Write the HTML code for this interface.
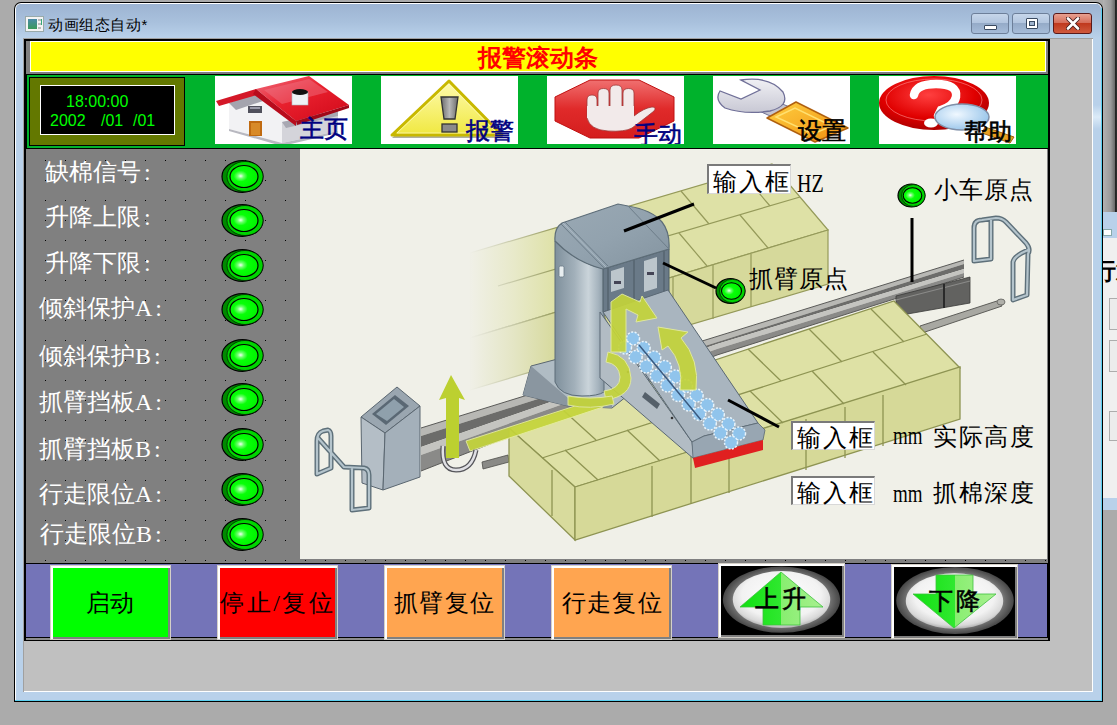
<!DOCTYPE html>
<html><head><meta charset="utf-8">
<style>
*{margin:0;padding:0;box-sizing:border-box}
html,body{width:1117px;height:725px;overflow:hidden;background:#ababab;font-family:"Liberation Sans",sans-serif}
.a{position:absolute}
.cn{font-family:"Liberation Serif",serif;white-space:nowrap;line-height:1}
</style></head><body>
<!-- other window strip at right -->
<div class="a" style="left:1103px;top:0;width:14px;height:212px;background:linear-gradient(90deg,#b2b2b2,#9a9a9a 55%,#6a6a6a 85%,#1a1a1a 90%,#202020 96%,#8a8a8a)"></div>
<div class="a" style="left:1103px;top:212px;width:14px;height:26px;background:#b9d1ea"></div>
<div class="a" style="left:1103px;top:229px;width:9px;height:7px;background:#fff;border:1px solid #8aa"></div>
<div class="a" style="left:1103px;top:238px;width:14px;height:260px;background:#f0f0f0"></div>
<div class="a cn" style="left:1092px;top:259px;font-size:24px;color:#000;font-weight:bold">行筹</div>
<div class="a" style="left:1109px;top:298px;width:10px;height:32px;border:1px solid #adadad;border-right:none;background:#ececec"></div>
<div class="a" style="left:1109px;top:340px;width:10px;height:32px;border:1px solid #adadad;border-right:none;background:#ececec"></div>
<div class="a" style="left:1109px;top:411px;width:10px;height:30px;border:1px solid #adadad;border-right:none;background:#ececec"></div>
<div class="a" style="left:1103px;top:498px;width:14px;height:12px;background:#b9d1ea"></div>

<!-- main window -->
<div class="a" style="left:14px;top:2px;width:1089px;height:700px;background:#000;border-radius:7px 7px 0 0"></div>
<div class="a" style="left:15px;top:3px;width:1087px;height:698px;background:#fff;border-radius:6px 6px 0 0"></div>
<div class="a" style="left:16px;top:4px;width:1085px;height:696px;background:#b9d1ea;border-radius:5px 5px 0 0"></div>
<div class="a" style="left:16px;top:4px;width:1085px;height:34px;background:linear-gradient(180deg,#9db4d2 0%,#a9c1dd 55%,#b9d1ea 100%);border-radius:5px 5px 0 0"></div>
<div class="a" style="left:1101px;top:8px;width:1px;height:693px;background:#5ad0f0"></div>
<div class="a" style="left:1093px;top:105px;width:8px;height:24px;background:linear-gradient(180deg,#b9d1ea,#dcebf8 50%,#b9d1ea)"></div>
<div class="a" style="left:15px;top:700px;width:1087px;height:1px;background:#5ad0f0"></div>
<!-- title -->
<div class="a" style="left:25px;top:16px;width:19px;height:16px;background:#f4f4f4;border:1px solid #9aa">
  <div class="a" style="left:2px;top:2px;width:9px;height:10px;background:linear-gradient(180deg,#4a8aa8,#3a9a5a)"></div>
  <div class="a" style="left:12px;top:2px;width:3px;height:2px;background:#bbb"></div>
  <div class="a" style="left:12px;top:6px;width:3px;height:2px;background:#bbb"></div>
  <div class="a" style="left:12px;top:10px;width:3px;height:2px;background:#bbb"></div>
  <div class="a" style="left:15px;top:2px;width:1px;height:6px;background:#3a7"></div>
</div>
<div class="a" style="left:48px;top:16px;font-size:15px;line-height:17px;color:#000;white-space:nowrap;letter-spacing:0.6px">动画组态自动*</div>
<!-- window buttons -->
<div class="a" style="left:971px;top:13px;width:38px;height:21px;border:1px solid #6d7f99;border-radius:3px;background:linear-gradient(180deg,#c6d6ea 0%,#b3c6df 45%,#95abc8 50%,#a6bcd8 100%)">
  <div class="a" style="left:12px;top:11px;width:13px;height:5px;background:#fff;border:1px solid #3a4a60;border-radius:1px"></div>
</div>
<div class="a" style="left:1012px;top:13px;width:38px;height:21px;border:1px solid #6d7f99;border-radius:3px;background:linear-gradient(180deg,#c6d6ea 0%,#b3c6df 45%,#95abc8 50%,#a6bcd8 100%)">
  <div class="a" style="left:13px;top:4px;width:12px;height:11px;background:#fff;border:1px solid #3a4a60;border-radius:1px"><div class="a" style="left:2px;top:2px;width:6px;height:5px;border:1px solid #3a4a60;background:#9fb3cc"></div></div>
</div>
<div class="a" style="left:1053px;top:13px;width:39px;height:21px;border:1px solid #5a1a1a;border-radius:3px;background:linear-gradient(180deg,#e8a090 0%,#d66f5c 45%,#c0391e 50%,#cf5a3e 100%)">
  <svg class="a" style="left:12px;top:3px" width="14" height="13" viewBox="0 0 14 13"><path d="M2 1.5 L12 11.5 M12 1.5 L2 11.5" stroke="#4a2020" stroke-width="4.4" stroke-linecap="round"/><path d="M2 1.5 L12 11.5 M12 1.5 L2 11.5" stroke="#fff" stroke-width="2.6" stroke-linecap="round"/></svg>
</div>

<!-- client area -->
<div class="a" style="left:23px;top:38px;width:1070px;height:654px;background:#a0a0a0"></div>
<div class="a" style="left:24px;top:39px;width:1069px;height:653px;background:#fff"></div>
<div class="a" style="left:24px;top:39px;width:1068px;height:652px;background:#c0c0c0"></div>

<!-- HMI frame -->
<div id="hmi" class="a" style="left:24px;top:39px;width:1026px;height:602px;background:#000"></div>
<!-- yellow bar -->
<div class="a" style="left:26px;top:41px;width:1022px;height:33px;background:#808080"></div>
<div class="a" style="left:30px;top:41px;width:1016px;height:31px;background:#ffff00;border:1px solid #fff"></div>
<div class="a cn" style="left:478px;top:46px;font-size:24px;color:#f00;font-weight:bold">报警滚动条</div>
<!-- green nav -->
<div class="a" style="left:27px;top:75px;width:1021px;height:73px;background:#00b22c"></div>
<div class="a" style="left:29px;top:77px;width:156px;height:69px;background:#637800;border:1px solid #000"></div>
<div class="a" style="left:40px;top:85px;width:135px;height:50px;background:#000;border:1px solid #fff"></div>
<div class="a" style="left:66px;top:93px;font-size:16px;line-height:18px;color:#00ff00">18:00:00</div>
<div class="a" style="left:50px;top:112px;font-size:16px;line-height:18px;color:#00ff00">2002</div>
<div class="a" style="left:101px;top:112px;font-size:16px;line-height:18px;color:#00ff00">/01</div>
<div class="a" style="left:133px;top:112px;font-size:16px;line-height:18px;color:#00ff00">/01</div>

<!-- nav buttons -->
<div class="a" style="left:215px;top:76px;width:137px;height:68px;background:#fff;overflow:hidden">
<svg width="137" height="68" viewBox="215 76 137 68">
  <defs>
    <linearGradient id="roofg" x1="0" y1="0" x2="1" y2="1"><stop offset="0" stop-color="#f07080"/><stop offset="0.45" stop-color="#e8202e"/><stop offset="1" stop-color="#d00818"/></linearGradient>
    <linearGradient id="wallg" x1="0" y1="0" x2="0" y2="1"><stop offset="0" stop-color="#e8e8ec"/><stop offset="1" stop-color="#c8c8cc"/></linearGradient>
  </defs>
  <polygon points="229,103 258,92 292,121 282,143 229,129" fill="#f2f2f4"/>
  <polygon points="282,122 338,110 338,131 282,143" fill="#d4d4da"/>
  <polygon points="229,129 282,143 338,131 338,133 282,146 229,131" fill="#b8b8c0"/>
  <polygon points="229,103 258,92 266,100 236,110" fill="#a4a4ae"/>
  <polygon points="282,122 338,110 338,116 286,128" fill="#a8a8b2"/>
  <rect x="248" y="106" width="14" height="7" fill="#50505c"/>
  <rect x="250" y="107" width="10" height="2" fill="#9a9aa8"/>
  <rect x="249" y="121" width="13" height="15" fill="#c06a10"/>
  <rect x="251" y="123" width="9" height="12" fill="#d88a28"/>
  <polygon points="256,89 309,76 349,105 296,121" fill="url(#roofg)"/>
  <polygon points="216,101 256,89 260,94 219,106" fill="#d41828"/>
  <polygon points="256,89 296,121 296,126 253,94" fill="#b80c1c"/>
  <polygon points="296,121 349,105 349,108 297,125" fill="#a00818"/>
  <polygon points="264,90 309,79 328,92 282,104" fill="#f07888" opacity="0.45"/>
  <rect x="292" y="92" width="16" height="13" fill="#eef2f6" stroke="#b0b8c0" stroke-width="0.6"/>
  <ellipse cx="300" cy="92" rx="8" ry="3" fill="#111"/>
</svg>
<div class="a cn" style="left:85px;top:41px;font-size:24px;color:#000080;-webkit-text-stroke:0.6px currentColor">主页</div>
</div>

<div class="a" style="left:381px;top:76px;width:137px;height:68px;background:#fff;overflow:hidden">
<svg width="137" height="68" viewBox="381 76 137 68">
  <defs><linearGradient id="trig" x1="0" y1="0" x2="0" y2="1"><stop offset="0" stop-color="#fffbb0"/><stop offset="1" stop-color="#f0e840"/></linearGradient></defs>
  <polygon points="449,80 503,136 391,136" fill="#b0b0a0" transform="translate(1,2)"/>
  <polygon points="449,81 502,135 392,135" fill="url(#trig)" stroke="#c8b800" stroke-width="3" stroke-linejoin="round"/>
  <polygon points="449,84 497,133 397,133" fill="none" stroke="#fffbc0" stroke-width="1" stroke-linejoin="round" opacity="0.7"/>
  <defs><linearGradient id="exg" x1="0" y1="0" x2="1" y2="0"><stop offset="0" stop-color="#6a6a6a"/><stop offset="0.5" stop-color="#b8b8b8"/><stop offset="1" stop-color="#6a6a6a"/></linearGradient></defs>
  <polygon points="441,97 458,97 455,119 444,119" fill="url(#exg)" stroke="#333" stroke-width="1.3"/>
  <rect x="442" y="124" width="15" height="8" fill="#8a8a8a" stroke="#333" stroke-width="1.3"/>
</svg>
<div class="a cn" style="left:85px;top:43px;font-size:24px;color:#000080;-webkit-text-stroke:0.6px currentColor">报警</div>
</div>

<div class="a" style="left:547px;top:76px;width:137px;height:68px;background:#fff;overflow:hidden">
<svg width="137" height="68" viewBox="547 76 137 68">
  <defs><linearGradient id="octg" x1="0" y1="0" x2="0" y2="1"><stop offset="0" stop-color="#f07070"/><stop offset="0.5" stop-color="#e02a2a"/><stop offset="1" stop-color="#d41e1e"/></linearGradient></defs>
  <polygon points="590,80 639,80 674,97 674,121 639,138 590,138 555,121 555,97" fill="url(#octg)" stroke="#c01010" stroke-width="1"/>
  <g fill="#f2eaea" stroke="#a03838" stroke-width="0.8">
  <path d="M587,118 L587,100 Q587,95 592,95 Q597,95 597,100 L597,118 Z"/>
  <path d="M598,118 L598,93 Q598,88.5 603.5,88.5 Q609,88.5 609,93 L609,118 Z"/>
  <path d="M610,118 L610,90 Q610,85 616,85 Q622,85 622,90 L622,118 Z"/>
  <path d="M623,118 L623,93 Q623,88.5 628.5,88.5 Q634,88.5 634,93 L634,118 Z"/>
  <path d="M587,106 L634,106 L634,116 Q644,108 652,107 Q657,107 654,111 Q640,122 632,128 Q625,132 608,131 Q590,130 587,118 Z" stroke="none"/>
  <path d="M634,116 Q644,108 652,107 Q657,107 654,111 Q640,122 632,128 Q625,132 608,131 Q590,130 587,118" fill="none"/>
</g>
</svg>
<div class="a cn" style="left:87px;top:47px;font-size:24px;color:#000080;-webkit-text-stroke:0.6px currentColor">手动</div>
</div>

<div class="a" style="left:713px;top:76px;width:137px;height:68px;background:#fff;overflow:hidden">
<svg width="137" height="68" viewBox="713 76 137 68">
  <defs>
    <linearGradient id="wrg" x1="0" y1="0" x2="0" y2="1"><stop offset="0" stop-color="#f0f0f4"/><stop offset="1" stop-color="#c8c8d4"/></linearGradient>
    <linearGradient id="hdg" x1="0" y1="0" x2="1" y2="1"><stop offset="0" stop-color="#ffcf40"/><stop offset="1" stop-color="#f09010"/></linearGradient>
  </defs>
  <polygon points="748,106 788,124 797,110 758,94" fill="#c4c4d0" stroke="#707090" stroke-width="1"/>
  <path d="M741,80 Q770,76 783,92 Q790,106 770,111 Q745,115 725,108 Q714,100 720,91 L741,99 L760,90 Z" fill="url(#wrg)" stroke="#707098" stroke-width="1.3"/>
  <polygon points="767,118 796,102 848,128 815,142" fill="url(#hdg)" stroke="#b06010" stroke-width="1.5" stroke-linejoin="round"/>
  <polygon points="776,117 795,108 832,126 813,134" fill="none" stroke="#ffe070" stroke-width="1.5"/>
</svg>
<div class="a cn" style="left:85px;top:43px;font-size:24px;color:#000;-webkit-text-stroke:0.6px currentColor">设置</div>
</div>

<div class="a" style="left:879px;top:76px;width:137px;height:68px;background:#fff;overflow:hidden">
<svg width="137" height="68" viewBox="879 76 137 68">
  <defs>
    <radialGradient id="hpg" cx="0.45" cy="0.35" r="0.7"><stop offset="0" stop-color="#ff4040"/><stop offset="0.6" stop-color="#e00000"/><stop offset="1" stop-color="#a00000"/></radialGradient>
    <radialGradient id="mgg" cx="0.4" cy="0.4" r="0.7"><stop offset="0" stop-color="#f0f8ff"/><stop offset="1" stop-color="#90c0e8"/></radialGradient>
  </defs>
  <ellipse cx="934" cy="103" rx="55" ry="27" fill="url(#hpg)"/>
  <ellipse cx="934" cy="100" rx="48" ry="21" fill="none" stroke="#ff9090" stroke-width="1" opacity="0.6"/>
  <path d="M914,95 Q916,84 936,84 Q958,84 956,97 Q954,106 941,110 L938,116" fill="none" stroke="#fff" stroke-width="8.5" stroke-linecap="round"/>
  <ellipse cx="931" cy="123" rx="7" ry="4.5" fill="#fff"/>
  <polygon points="985,127 1014,137 1010,143 982,133" fill="#e8a020" stroke="#a06010" stroke-width="1"/>
  <ellipse cx="962" cy="117" rx="27" ry="13" fill="url(#mgg)" stroke="#8090a8" stroke-width="1.5"/>
</svg>
<div class="a cn" style="left:85px;top:44px;font-size:24px;color:#000;-webkit-text-stroke:0.6px currentColor">帮助</div>
</div>


<!-- left panel -->
<svg class="a" style="left:26px;top:149px" width="1022" height="414">
  <defs><pattern id="dots" x="-1" y="-9" width="20" height="20" patternUnits="userSpaceOnUse"><rect x="0" y="0" width="1" height="1" fill="#000"/></pattern></defs>
  <rect width="1022" height="414" fill="#808080"/>
  <rect width="1022" height="414" fill="url(#dots)"/>
</svg>
<div class="a" style="left:300px;top:149px;width:747px;height:410px;background:#f0f0e8"></div>

<div id="illus"><svg class="a" style="left:300px;top:149px" width="747" height="410" viewBox="300 149 747 410">
<defs>
  <linearGradient id="fadeL" x1="0" y1="0" x2="1" y2="0"><stop offset="0" stop-color="#f0f0e8" stop-opacity="1"/><stop offset="0.5" stop-color="#f0f0e8" stop-opacity="0.55"/><stop offset="1" stop-color="#f0f0e8" stop-opacity="0"/></linearGradient>
  <linearGradient id="cyl" x1="0" y1="0" x2="1" y2="0"><stop offset="0" stop-color="#7f909c"/><stop offset="0.4" stop-color="#a2b0ba"/><stop offset="0.68" stop-color="#cad4da"/><stop offset="0.88" stop-color="#a6b4be"/><stop offset="1" stop-color="#8a9aa6"/></linearGradient>
  <linearGradient id="topf" x1="0" y1="0" x2="1" y2="1"><stop offset="0" stop-color="#9aa9b4"/><stop offset="0.5" stop-color="#92a2ae"/><stop offset="1" stop-color="#8494a0"/></linearGradient>
  <linearGradient id="railg" x1="0" y1="0" x2="0" y2="1"><stop offset="0" stop-color="#c8c8c4"/><stop offset="0.2" stop-color="#6a6a68"/><stop offset="0.55" stop-color="#8a8a88"/><stop offset="0.7" stop-color="#b0b0ac"/><stop offset="1" stop-color="#5e5e5c"/></linearGradient>
</defs>
<!-- back bale row -->
<g stroke="#959a5a" stroke-width="1.2">
  <polygon points="470,253 772,164 828,230 470,338" fill="#dee1a6"/>
  <polygon points="828,230 828,284 470,390 470,338" fill="#d6d99b"/>
  <path d="M498,286 L800,197 M561,226 L589,259 M621,208 L649,242 M681,191 L709,224 M742,173 L770,206 M558,268 L586,301 M619,250 L647,283 M679,233 L707,266 M740,215 L768,248 M751,254 L751,307 M713,265 L713,319 M673,277 L673,330 M600,300 L620,370" fill="none"/>
</g>
<rect x="469" y="225" width="88" height="170" fill="url(#fadeL)"/>
<!-- right handrail -->
<g fill="none" stroke-linecap="round" stroke-linejoin="round">
  <path d="M974,261 L974,228 Q974,220 982,220 L996,218 Q1002,218 1006,222 L1026,243 Q1031,249 1028,254 L1027,295 L1013,300 L1013,262 Q1014,256 1028,250 M991,220 L991,259 L974,261" stroke="#5e707a" stroke-width="5"/>
  <path d="M974,261 L974,228 Q974,220 982,220 L996,218 Q1002,218 1006,222 L1026,243 Q1031,249 1028,254 L1027,295 L1013,300 L1013,262 Q1014,256 1028,250 M991,220 L991,259 L974,261" stroke="#b4c4cc" stroke-width="2.2"/>
</g>
<!-- lower thin rail right -->
<polygon points="920,326 1000,300 1002,306 922,333" fill="#a8a8a2" stroke="#5e5e5a" stroke-width="1"/>
<ellipse cx="1001" cy="302" rx="4" ry="3" fill="#b0b0aa" stroke="#5e5e5a" stroke-width="0.8"/>
<!-- main rail -->
<polygon points="421,428 964,260 964,264 421,436" fill="#b8b8b4"/>
<polygon points="421,436 964,264 964,269 717,344 421,447" fill="#6c6c6a"/>
<polygon points="421,447 717,344 964,269 964,273 717,349 421,455" fill="#c4c4c0"/>
<polygon points="421,455 717,349 964,273 964,277 717,355 421,471" fill="#8a8a88"/>
<path d="M421,428 L964,260 M421,471 L717,355 L964,277" stroke="#5a5a58" stroke-width="1" fill="none"/>
<polygon points="896,296 970,277 970,303 896,316" fill="#626260" stroke="#3a3a38" stroke-width="0.8"/>
<path d="M896,300 L970,281" stroke="#8a8a88" stroke-width="1.2"/>
<path d="M944,284 L944,308" stroke="#2a2a2a" stroke-width="2"/>
<!-- floor strip between back row and rail -->
<!-- lower small rail left -->
<polygon points="482,462 508,455 509,462 483,469" fill="#8a8a86" stroke="#4e4e4a" stroke-width="0.8"/>
<!-- front bale row -->
<g stroke="#8e9452" stroke-width="1.3">
  <polygon points="509,428 894,301 960,368 575,487" fill="#dee1a5"/>
  <polygon points="509,428 575,487 575,540 509,476" fill="#d8db9d"/>
  <polygon points="575,487 960,367 960,419 575,540" fill="#d6d998"/>
  <path d="M542,458 L927,334 M563,410 L596,440 M624,390 L658,421 M686,370 L719,401 M748,349 L781,381 M809,329 L842,362 M871,309 L904,342 M565,450 L598,480 M627,430 L660,461 M688,411 L721,442 M750,391 L783,423 M812,371 L844,404 M873,352 L906,385 M652,466 L652,517 M691,455 L691,504 M729,443 L729,493 M806,419 L806,470 M845,407 L845,458 M883,395 L883,446 M552,470 L552,516" fill="none"/>
</g>
<!-- base platform -->
<polygon points="531,366 607,346 652,376 612,408 568,406 523,395" fill="#b0bcc4" stroke="#5a6670" stroke-width="1"/>
<polygon points="523,395 568,406 612,408 612,400 568,398 531,366" fill="#8a96a0"/>
<!-- tower cylinder -->
<path d="M555,241 L555,382 Q560,396 582,396 Q598,396 604,392 L604,269 Q575,262 555,241 Z" fill="url(#cyl)" stroke="#5d6d78" stroke-width="1"/>
<rect x="559" y="266" width="5" height="11" rx="1.5" fill="#e8eef0" stroke="#6a7a86" stroke-width="0.8"/>
<!-- tower front box -->
<polygon points="603,269 669,249 669,292 603,312" fill="#6a7a88" stroke="#4e5e68" stroke-width="1"/>
<path d="M608,268 L608,310 M664,251 L664,293 M634,260 L634,302" stroke="#55646f" stroke-width="1.5"/>
<polygon points="611,271 624,267 624,288 611,292" fill="#bcc6cc"/>
<polygon points="644,261 657,257 657,288 644,292" fill="#bcc6cc"/>
<rect x="614" y="281" width="7" height="3" fill="#445" />
<rect x="647" y="272" width="7" height="3" fill="#445"/>
<!-- tower top -->
<path d="M555,241 Q554,228 562,223 L618,204 L628,206 Q652,210 662,222 Q670,232 669,249 L603,269 Q575,262 555,241 Z" fill="url(#topf)" stroke="#5d6d78" stroke-width="1.2"/>
<path d="M561,224 L604,268 M565,222 L608,266 M628,206 L669,249" stroke="#6d7d89" stroke-width="1" fill="none"/>
<path d="M563,223 L606,267" stroke="#b4c2cc" stroke-width="0.8" fill="none"/>
<!-- arm -->
<polygon points="600,312 692,442 694,459 600,378" fill="#b2bcc4" stroke="#5a6874" stroke-width="1"/>
<polygon points="603,312 668,290 758,423 704,436 692,442" fill="#a9b5bf" stroke="#5a6874" stroke-width="1"/>
<polygon points="692,442 704,436 758,423 765,430 763,440 693,458" fill="#98a6b2" stroke="#5a6874" stroke-width="0.8"/>
<polygon points="693,458 763,440 763,450 695,468" fill="#e02020"/>
<polygon points="645,392 660,404 657,409 642,397" fill="#55606a"/>
<circle cx="628" cy="372" r="1.3" fill="#333"/><circle cx="672" cy="418" r="1.3" fill="#333"/>
<!-- blue roller -->
<g fill="#90c4ec" stroke="#e8f4fc" stroke-width="1.5" stroke-dasharray="2 1.5"><circle cx="633.0" cy="338.5" r="6.5"/><circle cx="625.0" cy="347.5" r="6.5"/><circle cx="643.6" cy="348.0" r="6.5"/><circle cx="635.6" cy="357.0" r="6.5"/><circle cx="654.2" cy="357.5" r="6.5"/><circle cx="646.2" cy="366.5" r="6.5"/><circle cx="664.8" cy="367.0" r="6.5"/><circle cx="656.8" cy="376.0" r="6.5"/><circle cx="675.4" cy="376.5" r="6.5"/><circle cx="667.4" cy="385.5" r="6.5"/><circle cx="686.0" cy="386.0" r="6.5"/><circle cx="678.0" cy="395.0" r="6.5"/><circle cx="696.6" cy="395.5" r="6.5"/><circle cx="688.6" cy="404.5" r="6.5"/><circle cx="707.2" cy="405.0" r="6.5"/><circle cx="699.2" cy="414.0" r="6.5"/><circle cx="717.8" cy="414.5" r="6.5"/><circle cx="709.8" cy="423.5" r="6.5"/><circle cx="728.4" cy="424.0" r="6.5"/><circle cx="720.4" cy="433.0" r="6.5"/><circle cx="739.0" cy="433.5" r="6.5"/><circle cx="731.0" cy="442.5" r="6.5"/></g>
<path d="M639,345 L701,420" stroke="#3a5a80" stroke-width="1.5" fill="none"/>
<!-- green arrows -->
<g fill="#c4d43a" opacity="0.92" stroke="#e4ec9c" stroke-width="1">
  <path d="M611,352 L611,302 L622,294 L640,302 L642,296 L657,318 L636,322 L638,315 L626,309 L626,352 Z"/>
  <path d="M680,390 Q684,364 668,346 L662,350 L658,327 L688,332 L681,338 Q700,360 696,390 Z"/>
  <path d="M608,352 Q630,356 631,378 Q631,396 606,400 L604,391 Q620,389 620,377 Q619,364 606,362 Z"/>
  <path d="M466,441 L600,398 L603,407 L470,451 Z"/>
  <path d="M568,396 Q590,400 612,396 L614,404 Q590,410 568,405 Z"/>
</g>
<path d="M446,458 L446,398 L439,400 L451,375 L465,400 L459,398 L459,458 Z" fill="#bcd030"/>
<path d="M443,446 Q441,470 456,470 Q472,470 476,450" fill="none" stroke="#55555a" stroke-width="5"/><path d="M443,446 Q441,470 456,470 Q472,470 476,450" fill="none" stroke="#e0e0e4" stroke-width="2.5"/>
<!-- console -->
<polygon points="361,417 397,387 420,406 385,433" fill="#9aa6b0" stroke="#5a6670" stroke-width="1"/>
<polygon points="372,414 395,395 409,406 386,425" fill="#5a6874"/>
<polygon points="376,414 394,399 404,407 387,421" fill="#8fa0ac"/>
<polygon points="361,417 385,433 383,490 362,483" fill="#b4bec6" stroke="#5a6670" stroke-width="1"/>
<polygon points="385,433 420,406 420,477 383,490" fill="#a4b0ba" stroke="#5a6670" stroke-width="1"/>
<!-- left handrail -->
<g fill="none" stroke-linecap="round" stroke-linejoin="round">
  <path d="M317,474 L317,441 Q317,433 323,431 L328,430 Q331,431 331,436 L331,468 L317,474 M318,438 L344,467 L364,468 Q369,469 369,475 L369,508 L352,510 L352,468" stroke="#5e707a" stroke-width="5"/>
  <path d="M317,474 L317,441 Q317,433 323,431 L328,430 Q331,431 331,436 L331,468 L317,474 M318,438 L344,467 L364,468 Q369,469 369,475 L369,508 L352,510 L352,468" stroke="#b4c4cc" stroke-width="2.2"/>
</g>
<!-- leader lines -->
<g stroke="#000" stroke-width="3" fill="none">
  <path d="M624,231 L694,204"/>
  <path d="M663,263 L716,288"/>
  <path d="M912,218 L912,282"/>
  <path d="M728,400 L779,427"/>
</g>
</svg>
</div>
<div class="a cn" style="left:45px;top:160px;font-size:24px;color:#fff">缺棉信号<span style="margin-left:3px">:</span></div>
<div class="a cn" style="left:45px;top:205px;font-size:24px;color:#fff">升降上限<span style="margin-left:3px">:</span></div>
<div class="a cn" style="left:45px;top:251px;font-size:24px;color:#fff">升降下限<span style="margin-left:3px">:</span></div>
<div class="a cn" style="left:39px;top:296px;font-size:24px;color:#fff">倾斜保护A<span style="margin-left:3px">:</span></div>
<div class="a cn" style="left:39px;top:344px;font-size:24px;color:#fff">倾斜保护B<span style="margin-left:3px">:</span></div>
<div class="a cn" style="left:39px;top:390px;font-size:24px;color:#fff">抓臂挡板A<span style="margin-left:3px">:</span></div>
<div class="a cn" style="left:39px;top:437px;font-size:24px;color:#fff">抓臂挡板B<span style="margin-left:3px">:</span></div>
<div class="a cn" style="left:39px;top:482px;font-size:24px;color:#fff">行走限位A<span style="margin-left:3px">:</span></div>
<div class="a cn" style="left:40px;top:522px;font-size:24px;color:#fff">行走限位B<span style="margin-left:3px">:</span></div>
<svg width="0" height="0" style="position:absolute"><defs><radialGradient id="ledg" cx="0.38" cy="0.48" r="0.6"><stop offset="0" stop-color="#f0fff0"/><stop offset="0.18" stop-color="#70ff70"/><stop offset="0.42" stop-color="#08ff08"/><stop offset="1" stop-color="#00f400"/></radialGradient></defs></svg>
<svg class="a" style="left:219.5px;top:158.9px" width="45" height="35" viewBox="-22.5 -17.5 45 35"><ellipse cx="0" cy="0" rx="20.5" ry="15.8" fill="#008a00" stroke="#000" stroke-width="1.2"/><ellipse cx="2.5" cy="0" rx="18.0" ry="15.0" fill="#00d400" stroke="#000" stroke-width="0.6"/><ellipse cx="1.5" cy="0" rx="14" ry="11" fill="url(#ledg)" stroke="#000" stroke-width="1.2"/></svg>
<svg class="a" style="left:219.5px;top:202.9px" width="45" height="35" viewBox="-22.5 -17.5 45 35"><ellipse cx="0" cy="0" rx="20.5" ry="15.8" fill="#008a00" stroke="#000" stroke-width="1.2"/><ellipse cx="2.5" cy="0" rx="18.0" ry="15.0" fill="#00d400" stroke="#000" stroke-width="0.6"/><ellipse cx="1.5" cy="0" rx="14" ry="11" fill="url(#ledg)" stroke="#000" stroke-width="1.2"/></svg>
<svg class="a" style="left:219.5px;top:247.8px" width="45" height="35" viewBox="-22.5 -17.5 45 35"><ellipse cx="0" cy="0" rx="20.5" ry="15.8" fill="#008a00" stroke="#000" stroke-width="1.2"/><ellipse cx="2.5" cy="0" rx="18.0" ry="15.0" fill="#00d400" stroke="#000" stroke-width="0.6"/><ellipse cx="1.5" cy="0" rx="14" ry="11" fill="url(#ledg)" stroke="#000" stroke-width="1.2"/></svg>
<svg class="a" style="left:219.5px;top:292.3px" width="45" height="35" viewBox="-22.5 -17.5 45 35"><ellipse cx="0" cy="0" rx="20.5" ry="15.8" fill="#008a00" stroke="#000" stroke-width="1.2"/><ellipse cx="2.5" cy="0" rx="18.0" ry="15.0" fill="#00d400" stroke="#000" stroke-width="0.6"/><ellipse cx="1.5" cy="0" rx="14" ry="11" fill="url(#ledg)" stroke="#000" stroke-width="1.2"/></svg>
<svg class="a" style="left:219.5px;top:337.5px" width="45" height="35" viewBox="-22.5 -17.5 45 35"><ellipse cx="0" cy="0" rx="20.5" ry="15.8" fill="#008a00" stroke="#000" stroke-width="1.2"/><ellipse cx="2.5" cy="0" rx="18.0" ry="15.0" fill="#00d400" stroke="#000" stroke-width="0.6"/><ellipse cx="1.5" cy="0" rx="14" ry="11" fill="url(#ledg)" stroke="#000" stroke-width="1.2"/></svg>
<svg class="a" style="left:219.5px;top:382.2px" width="45" height="35" viewBox="-22.5 -17.5 45 35"><ellipse cx="0" cy="0" rx="20.5" ry="15.8" fill="#008a00" stroke="#000" stroke-width="1.2"/><ellipse cx="2.5" cy="0" rx="18.0" ry="15.0" fill="#00d400" stroke="#000" stroke-width="0.6"/><ellipse cx="1.5" cy="0" rx="14" ry="11" fill="url(#ledg)" stroke="#000" stroke-width="1.2"/></svg>
<svg class="a" style="left:219.5px;top:427.1px" width="45" height="35" viewBox="-22.5 -17.5 45 35"><ellipse cx="0" cy="0" rx="20.5" ry="15.8" fill="#008a00" stroke="#000" stroke-width="1.2"/><ellipse cx="2.5" cy="0" rx="18.0" ry="15.0" fill="#00d400" stroke="#000" stroke-width="0.6"/><ellipse cx="1.5" cy="0" rx="14" ry="11" fill="url(#ledg)" stroke="#000" stroke-width="1.2"/></svg>
<svg class="a" style="left:219.5px;top:472.0px" width="45" height="35" viewBox="-22.5 -17.5 45 35"><ellipse cx="0" cy="0" rx="20.5" ry="15.8" fill="#008a00" stroke="#000" stroke-width="1.2"/><ellipse cx="2.5" cy="0" rx="18.0" ry="15.0" fill="#00d400" stroke="#000" stroke-width="0.6"/><ellipse cx="1.5" cy="0" rx="14" ry="11" fill="url(#ledg)" stroke="#000" stroke-width="1.2"/></svg>
<svg class="a" style="left:219.5px;top:516.5px" width="45" height="35" viewBox="-22.5 -17.5 45 35"><ellipse cx="0" cy="0" rx="20.5" ry="15.8" fill="#008a00" stroke="#000" stroke-width="1.2"/><ellipse cx="2.5" cy="0" rx="18.0" ry="15.0" fill="#00d400" stroke="#000" stroke-width="0.6"/><ellipse cx="1.5" cy="0" rx="14" ry="11" fill="url(#ledg)" stroke="#000" stroke-width="1.2"/></svg>

<!-- illustration labels -->
<div class="a" style="left:707px;top:164px;width:84px;height:30px;background:#fff;border-top:2px solid #7a7a7a;border-left:2px solid #7a7a7a;border-right:1px solid #d8d8d8;border-bottom:1px solid #d8d8d8"></div>
<div class="a cn" style="left:713px;top:170px;font-size:24px;letter-spacing:2px;color:#000">输入框</div>
<div class="a cn" style="left:797px;top:171px;font-size:25px;color:#000;transform:scaleX(0.8);transform-origin:0 0">HZ</div>
<div class="a" style="left:791px;top:421px;width:84px;height:29px;background:#fff;border-top:2px solid #7a7a7a;border-left:2px solid #7a7a7a;border-right:1px solid #d8d8d8;border-bottom:1px solid #d8d8d8"></div>
<div class="a cn" style="left:797px;top:426px;font-size:24px;letter-spacing:2px;color:#000">输入框</div>
<div class="a cn" style="left:893px;top:423px;font-size:25px;color:#000;transform:scaleX(0.76);transform-origin:0 0">mm</div>
<div class="a cn" style="left:933px;top:425px;font-size:24px;letter-spacing:1.5px;color:#000">实际高度</div>
<div class="a" style="left:791px;top:476px;width:84px;height:29px;background:#fff;border-top:2px solid #7a7a7a;border-left:2px solid #7a7a7a;border-right:1px solid #d8d8d8;border-bottom:1px solid #d8d8d8"></div>
<div class="a cn" style="left:797px;top:481px;font-size:24px;letter-spacing:2px;color:#000">输入框</div>
<div class="a cn" style="left:893px;top:481px;font-size:25px;color:#000;transform:scaleX(0.76);transform-origin:0 0">mm</div>
<div class="a cn" style="left:933px;top:481px;font-size:24px;letter-spacing:1.5px;color:#000">抓棉深度</div>
<div class="a cn" style="left:749px;top:267px;font-size:24px;letter-spacing:1px;color:#000">抓臂原点</div>
<div class="a cn" style="left:934px;top:178px;font-size:24px;letter-spacing:1px;color:#000">小车原点</div>
<svg class="a" style="left:713.9px;top:276.7px" width="33" height="28" viewBox="-16.5 -14.0 33 28"><ellipse cx="0" cy="0" rx="14.5" ry="12.3" fill="#008a00" stroke="#000" stroke-width="1.2"/><ellipse cx="1.8" cy="0" rx="12.7" ry="11.700000000000001" fill="#00d400" stroke="#000" stroke-width="0.6"/><ellipse cx="1.0" cy="0" rx="10" ry="8.3" fill="url(#ledg)" stroke="#000" stroke-width="1.1"/></svg><svg class="a" style="left:896.2px;top:181.5px" width="31" height="27" viewBox="-15.5 -13.5 31 27"><ellipse cx="0" cy="0" rx="13.5" ry="11.5" fill="#008a00" stroke="#000" stroke-width="1.2"/><ellipse cx="1.8" cy="0" rx="11.7" ry="10.9" fill="#00d400" stroke="#000" stroke-width="0.6"/><ellipse cx="1.0" cy="0" rx="9.3" ry="7.8" fill="url(#ledg)" stroke="#000" stroke-width="1.1"/></svg>
<!-- bottom purple bar -->
<div class="a" style="left:26px;top:564px;width:1021px;height:73px;background:#7474b8"></div>
<div class="a" style="left:26px;top:638px;width:1022px;height:2px;background:#8c8c8c"></div>
<div class="a" style="left:50px;top:565px;width:121px;height:75px;background:#00ff00;border:1px solid #d4d0c8;box-shadow:inset 2px 2px 0 #fff,inset -2px -2px 0 #808080"></div>
<div class="a cn" style="left:86px;top:591px;font-size:24px;color:#000">启动</div>
<div class="a" style="left:217px;top:565px;width:121px;height:75px;background:#ff0000;border:1px solid #d4d0c8;box-shadow:inset 2px 2px 0 #fff,inset -2px -2px 0 #808080"></div>
<div class="a cn" style="left:220px;top:591px;font-size:24px;letter-spacing:2.6px;color:#000">停止/复位</div>
<div class="a" style="left:384px;top:565px;width:121px;height:75px;background:#ffa550;border:1px solid #d4d0c8;box-shadow:inset 2px 2px 0 #fff,inset -2px -2px 0 #808080"></div>
<div class="a cn" style="left:394px;top:591px;font-size:24px;letter-spacing:1.3px;color:#000">抓臂复位</div>
<div class="a" style="left:551px;top:565px;width:121px;height:75px;background:#ffa550;border:1px solid #d4d0c8;box-shadow:inset 2px 2px 0 #fff,inset -2px -2px 0 #808080"></div>
<div class="a cn" style="left:562px;top:591px;font-size:24px;letter-spacing:1.2px;color:#000">行走复位</div>

<div class="a" style="left:718px;top:563px;width:127px;height:75px;background:#000;border:1px solid #d4d0c8;box-shadow:inset 2px 2px 0 #fff,inset -2px -2px 0 #808080"></div>
<svg class="a" style="left:718px;top:563px" width="127" height="75" viewBox="718 563 127 75">
  <defs>
    <radialGradient id="ringg" cx="0.5" cy="0.5" r="0.5"><stop offset="0.78" stop-color="#8a8a8a"/><stop offset="0.86" stop-color="#6a6a6a"/><stop offset="1" stop-color="#464646"/></radialGradient>
    <radialGradient id="innerg" cx="0.5" cy="0.42" r="0.58"><stop offset="0" stop-color="#ffffff"/><stop offset="0.7" stop-color="#f2f2f2"/><stop offset="0.9" stop-color="#d8d8d8"/><stop offset="1" stop-color="#b0b0b0"/></radialGradient>
    <linearGradient id="arrg" x1="0" y1="0" x2="1" y2="0"><stop offset="0" stop-color="#10e010"/><stop offset="0.5" stop-color="#30e830"/><stop offset="0.5" stop-color="#88ee70"/><stop offset="1" stop-color="#a8f090"/></linearGradient>
  </defs>
  <ellipse cx="781.5" cy="599.6" rx="58.6" ry="33.2" fill="url(#ringg)"/>
  <ellipse cx="781.5" cy="599.5" rx="48.7" ry="28.5" fill="url(#innerg)"/>
  <polygon points="781,572 823,607 800,607 800,625 763,625 763,607 740,607" fill="url(#arrg)" stroke="#40c040" stroke-width="0.8" stroke-linejoin="round"/>
</svg>
<div class="a cn" style="left:755px;top:587px;font-size:24px;letter-spacing:3px;color:#000;-webkit-text-stroke:0.6px currentColor">上升</div>

<div class="a" style="left:891px;top:564px;width:127px;height:75px;background:#000;border:1px solid #d4d0c8;box-shadow:inset 2px 2px 0 #fff,inset -2px -2px 0 #808080"></div>
<svg class="a" style="left:891px;top:564px" width="127" height="75" viewBox="891 564 127 75">
  <ellipse cx="955" cy="600.5" rx="58.8" ry="33.5" fill="url(#ringg)"/>
  <ellipse cx="954.5" cy="601" rx="48.7" ry="27.8" fill="url(#innerg)"/>
  <polygon points="954,628 996,594 973,594 973,575 936,575 936,594 913,594" fill="url(#arrg)" stroke="#40c040" stroke-width="0.8" stroke-linejoin="round"/>
</svg>
<div class="a cn" style="left:929px;top:589px;font-size:24px;letter-spacing:3px;color:#000;-webkit-text-stroke:0.6px currentColor">下降</div>


</body></html>
